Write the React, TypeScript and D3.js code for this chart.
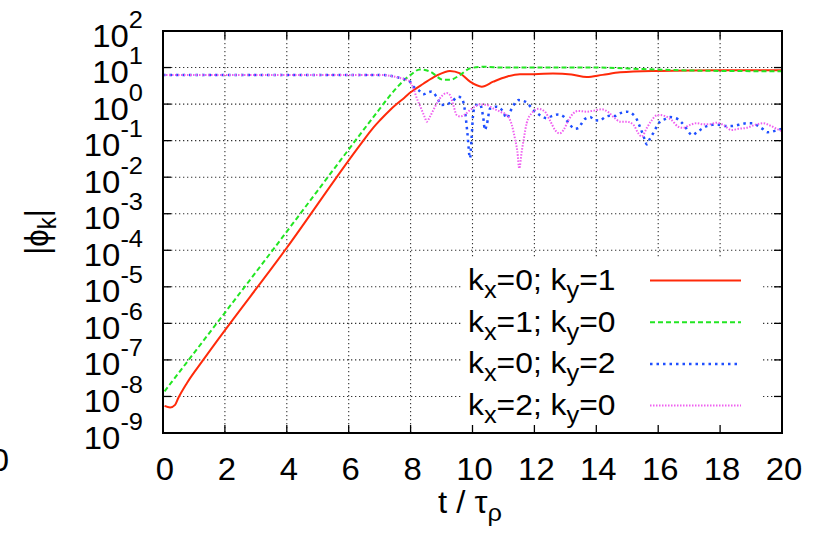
import React from "react";
import * as d3 from "d3";

// Mode amplitudes |phi_k| versus normalised time t / tau_rho
const WIDTH = 815;
const HEIGHT = 547;
const PLOT = { left: 163, right: 782, top: 31, bottom: 433 };

const xTickValues = [0, 2, 4, 6, 8, 10, 12, 14, 16, 18, 20];
const yExponents = [2, 1, 0, -1, -2, -3, -4, -5, -6, -7, -8, -9];

// kx=0; ky=1
const mode01T = [0.05, 0.23, 0.39, 0.49, 0.77, 1.3, 4.0, 6.4, 6.79, 7.01, 7.33, 7.55, 7.8, 8.0, 8.41, 8.84, 9.27, 9.6, 9.92, 10.3, 10.67, 11.1, 11.53, 12.0, 12.6, 13.2, 13.69, 14.2, 14.77, 16.0, 18.0, 20.0];
const mode01Amp = [5.5e-9, 5.0e-9, 5.9e-9, 8.9e-9, 2.3e-8, 1.0e-7, 1.17e-4, 8.3e-2, 0.224, 0.36, 0.68, 1.0, 1.5, 2.1, 3.6, 6.0, 8.1, 6.9, 4.1, 3.0, 4.1, 5.6, 6.6, 6.6, 6.9, 6.5, 5.5, 6.3, 7.4, 8.1, 8.5, 8.5];

// kx=1; ky=0
const mode10T = [0.05, 3.5, 7.0, 7.3, 7.55, 7.8, 8.0, 8.3, 8.63, 9.06, 9.27, 9.6, 9.92, 10.35, 11.0, 12.0, 13.0, 14.0, 15.5, 17.0, 20.0];
const mode10Amp = [1.38e-8, 9.0e-5, 0.74, 1.58, 2.8, 4.6, 6.3, 8.9, 7.8, 4.6, 4.6, 6.3, 9.5, 10.5, 10.0, 10.0, 10.0, 10.0, 9.1, 8.3, 7.9];

// kx=0; ky=2
const mode02T = [0, 7.0, 7.44, 7.66, 7.87, 7.98, 8.09, 8.25, 8.41, 8.57, 8.68, 8.84, 9.0, 9.17, 9.33, 9.54, 9.65, 9.76, 9.83, 9.92, 9.97, 10.03, 10.13, 10.24, 10.35, 10.4, 10.46, 10.57, 10.78, 10.99, 11.1, 11.27, 11.48, 11.7, 11.97, 12.24, 12.4, 12.56, 12.77, 12.94, 13.15, 13.31, 13.42, 13.53, 13.63, 13.8, 13.96, 14.12, 14.28, 14.44, 14.6, 14.77, 14.98, 15.25, 15.41, 15.57, 15.63, 15.73, 15.84, 15.95, 16.06, 16.22, 16.38, 16.58, 16.73, 16.87, 16.97, 17.1, 17.24, 17.41, 17.57, 17.75, 17.94, 18.13, 18.32, 18.51, 18.67, 18.86, 19.04, 19.2, 19.37, 19.53, 19.7, 19.85, 20.0];
const mode02Amp = [6.3, 6.3, 5.75, 5.2, 4.6, 4.1, 3.0, 2.45, 1.86, 2.1, 2.2, 1.58, 0.95, 0.98, 1.17, 1.58, 1.45, 0.62, 0.178, 0.033, 0.115, 0.62, 0.95, 0.98, 0.41, 0.195, 0.27, 0.76, 0.85, 0.62, 0.41, 0.76, 1.29, 1.17, 0.69, 0.46, 0.41, 0.47, 0.52, 0.46, 0.27, 0.21, 0.22, 0.3, 0.39, 0.44, 0.36, 0.355, 0.44, 0.48, 0.47, 0.56, 0.62, 0.46, 0.24, 0.105, 0.079, 0.112, 0.16, 0.24, 0.33, 0.39, 0.44, 0.41, 0.33, 0.24, 0.18, 0.141, 0.166, 0.21, 0.25, 0.27, 0.27, 0.25, 0.25, 0.26, 0.28, 0.3, 0.3, 0.26, 0.21, 0.17, 0.178, 0.195, 0.21];

// kx=2; ky=0
const mode20T = [0, 7.0, 7.44, 7.66, 7.87, 7.98, 8.09, 8.2, 8.36, 8.47, 8.52, 8.63, 8.79, 8.95, 9.17, 9.27, 9.38, 9.49, 9.6, 9.76, 9.92, 10.08, 10.24, 10.46, 10.67, 10.89, 11.1, 11.27, 11.37, 11.45, 11.51, 11.59, 11.66, 11.75, 11.91, 12.13, 12.34, 12.5, 12.67, 12.81, 12.94, 13.1, 13.26, 13.42, 13.69, 13.9, 14.17, 14.39, 14.6, 14.77, 14.98, 15.2, 15.36, 15.47, 15.63, 15.79, 15.95, 16.06, 16.22, 16.44, 16.65, 16.81, 17.03, 17.24, 17.46, 17.67, 17.89, 18.1, 18.37, 18.59, 18.86, 19.13, 19.4, 19.61, 19.83, 20.0];
const mode20Amp = [6.3, 6.3, 5.75, 5.2, 4.6, 4.1, 2.7, 1.45, 0.69, 0.41, 0.33, 0.46, 0.85, 1.45, 2.0, 1.78, 0.95, 0.5, 0.46, 0.52, 0.69, 0.85, 0.98, 0.95, 0.76, 0.62, 0.5, 0.27, 0.115, 0.05, 0.0174, 0.05, 0.115, 0.3, 0.56, 0.74, 0.62, 0.36, 0.195, 0.158, 0.195, 0.36, 0.56, 0.65, 0.62, 0.66, 0.72, 0.6, 0.41, 0.33, 0.33, 0.27, 0.158, 0.129, 0.22, 0.36, 0.49, 0.5, 0.47, 0.36, 0.24, 0.224, 0.27, 0.3, 0.28, 0.28, 0.31, 0.27, 0.195, 0.21, 0.224, 0.27, 0.3, 0.26, 0.21, 0.18];

const legendKx = ["0", "1", "0", "2"];
const legendKy = ["1", "0", "2", "0"];

const FONT = "'Liberation Sans', Arial, Helvetica, sans-serif";
const STRETCH = 1.06;

type Series = { t: number[]; amp: number[]; color: string; width: number; dash?: string };

const series: Series[] = [
  { t: mode01T, amp: mode01Amp, color: "#ff2a0a", width: 2 },
  { t: mode10T, amp: mode10Amp, color: "#22e622", width: 2, dash: "5,3" },
  { t: mode02T, amp: mode02Amp, color: "#1f4fff", width: 2.5, dash: "2.5,4" },
  { t: mode20T, amp: mode20Amp, color: "#f060f0", width: 2, dash: "1.5,1.5" },
];

export default function App() {
  const x = d3.scaleLinear().domain([0, 20]).range([PLOT.left, PLOT.right]);
  const y = d3.scaleLog().domain([1e-9, 1e2]).range([PLOT.bottom, PLOT.top]);

  const line = d3
    .line<[number, number]>()
    .x((d) => x(d[0]))
    .y((d) => y(d[1]))
    .curve(d3.curveMonotoneX);

  const tickLen = 8;
  const legendBaseline = (i: number) => 290 + i * 41.7;

  return (
    <svg
      width={WIDTH}
      height={HEIGHT}
      viewBox={`0 0 ${WIDTH} ${HEIGHT}`}
      style={{ position: "absolute", left: 0, top: 0, background: "#fff" }}
      fontFamily={FONT}
    >
      <defs>
        <clipPath id="plot-area">
          <rect x={PLOT.left} y={PLOT.top} width={PLOT.right - PLOT.left} height={PLOT.bottom - PLOT.top} />
        </clipPath>
      </defs>
      <rect x={0} y={0} width={WIDTH} height={HEIGHT} fill="#fff" />

      {/* grid */}
      <g stroke="#333" strokeWidth={1.1} strokeDasharray="1.3,2.7">
        {xTickValues.slice(1, -1).map((t) => (
          <line key={`gx${t}`} x1={x(t)} x2={x(t)} y1={PLOT.top} y2={PLOT.bottom} />
        ))}
        {yExponents.slice(1, -1).map((e) => (
          <line key={`gy${e}`} x1={PLOT.left} x2={PLOT.right} y1={y(Math.pow(10, e))} y2={y(Math.pow(10, e))} />
        ))}
      </g>

      {/* curves */}
      <g clipPath="url(#plot-area)" fill="none">
        {series.map((s, i) => (
          <path
            key={i}
            d={line(s.t.map((t, j) => [t, s.amp[j]] as [number, number])) || ""}
            stroke={s.color}
            strokeWidth={s.width}
            strokeDasharray={s.dash}
            strokeLinejoin="round"
          />
        ))}
      </g>

      {/* opaque key */}
      <rect x={461} y={257} width={300} height={176} fill="#fff" />
      {legendKx.map((kx, i) => {
        const b = legendBaseline(i);
        const s = series[i];
        return (
          <g key={`leg${i}`}>
            <text transform={`translate(468,${b}) scale(${STRETCH},1)`} fontSize={30} fill="#000">
              k<tspan fontSize={24} dy={8}>x</tspan>
              <tspan dy={-8}>={kx}; k</tspan>
              <tspan fontSize={24} dy={8}>y</tspan>
              <tspan dy={-8}>={legendKy[i]}</tspan>
            </text>
            <line x1={650} x2={741} y1={b - 9.5} y2={b - 9.5} stroke={s.color} strokeWidth={s.width} strokeDasharray={s.dash} />
          </g>
        );
      })}

      {/* ticks */}
      <g stroke="#000" strokeWidth={1.3}>
        {xTickValues.map((t) => (
          <g key={`tx${t}`}>
            <line x1={x(t)} x2={x(t)} y1={PLOT.bottom} y2={PLOT.bottom - tickLen} />
            <line x1={x(t)} x2={x(t)} y1={PLOT.top} y2={PLOT.top + tickLen} />
          </g>
        ))}
        {yExponents.map((e) => (
          <g key={`ty${e}`}>
            <line x1={PLOT.left} x2={PLOT.left + tickLen} y1={y(Math.pow(10, e))} y2={y(Math.pow(10, e))} />
            <line x1={PLOT.right} x2={PLOT.right - tickLen} y1={y(Math.pow(10, e))} y2={y(Math.pow(10, e))} />
          </g>
        ))}
      </g>

      {/* frame */}
      <rect
        x={PLOT.left}
        y={PLOT.top}
        width={PLOT.right - PLOT.left}
        height={PLOT.bottom - PLOT.top}
        fill="none"
        stroke="#000"
        strokeWidth={2}
      />

      {/* y tick labels */}
      {yExponents.map((e) => (
        <text
          key={`ly${e}`}
          transform={`translate(143,${y(Math.pow(10, e)) + 15.5}) scale(${STRETCH},1)`}
          textAnchor="end"
          fontSize={31}
          fill="#000"
        >
          10<tspan fontSize={24} dy={-19}>{e}</tspan>
        </text>
      ))}

      {/* x tick labels */}
      {xTickValues.map((t) => (
        <text
          key={`lx${t}`}
          transform={`translate(${x(t) + 2},480) scale(${STRETCH},1)`}
          textAnchor="middle"
          fontSize={31}
          fill="#000"
        >
          {t}
        </text>
      ))}
      <text transform={`translate(0,471) scale(${STRETCH},1)`} textAnchor="middle" fontSize={31} fill="#000">
        0
      </text>

      {/* axis titles */}
      <text transform={`translate(470,513) scale(${STRETCH},1)`} textAnchor="middle" fontSize={31} fill="#000">
        t / τ<tspan fontSize={24} dy={8}>ρ</tspan>
      </text>
      <text transform={`translate(48,232) rotate(-90) scale(1,${STRETCH})`} textAnchor="middle" fontSize={31} fill="#000">
        |ϕ<tspan fontSize={24} dy={8}>k</tspan>
        <tspan dy={-8}>|</tspan>
      </text>
    </svg>
  );
}
